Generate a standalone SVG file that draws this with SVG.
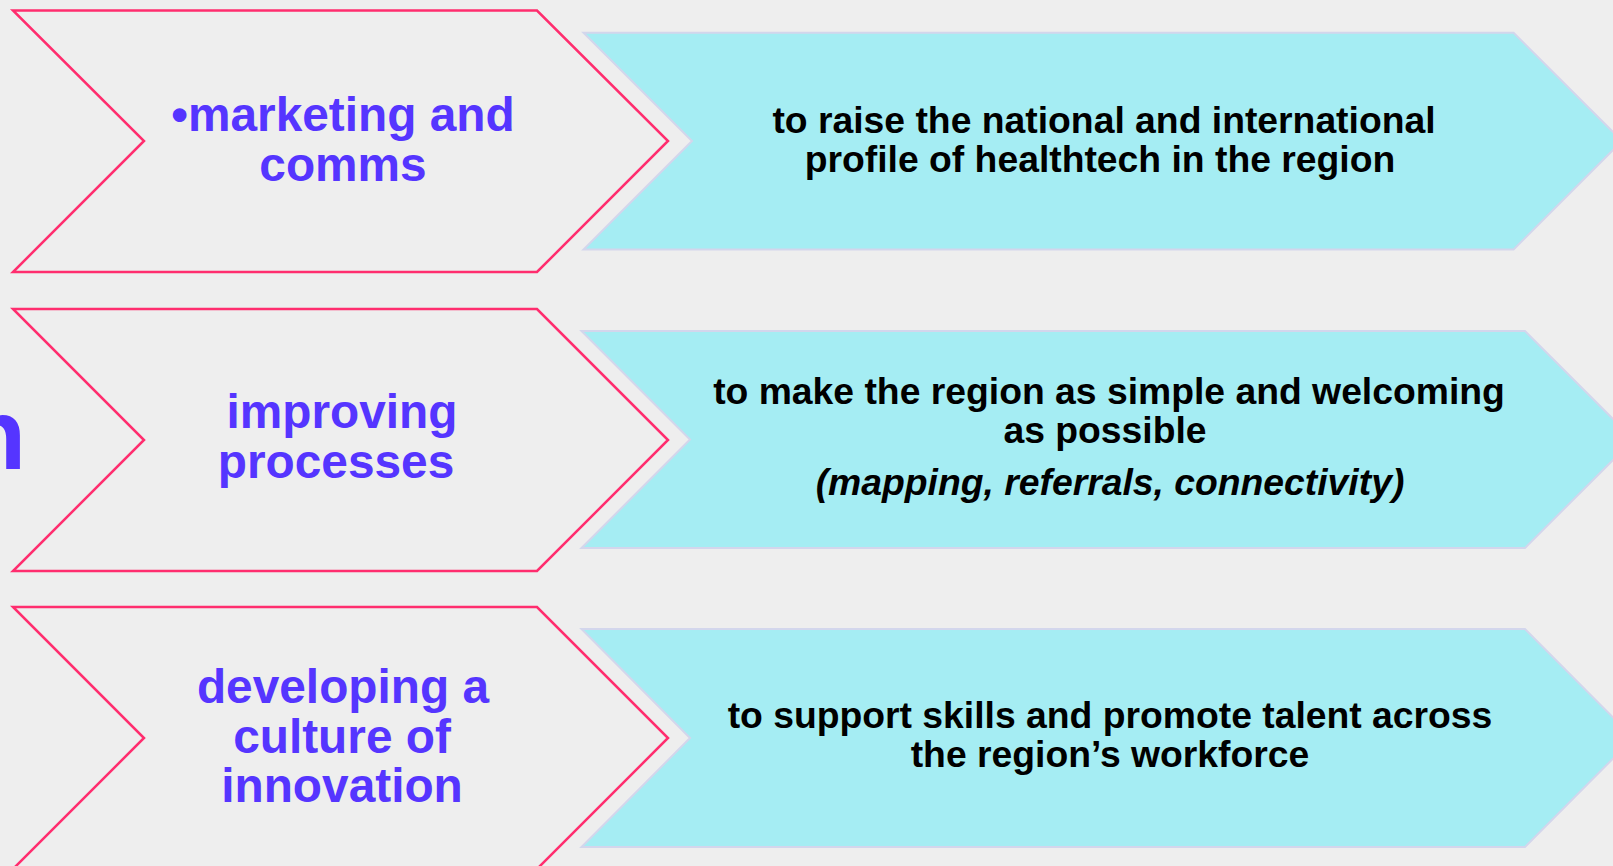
<svg xmlns="http://www.w3.org/2000/svg" width="1613" height="866" viewBox="0 0 1613 866">
<style>
.bg{fill:#eeeeee}
.pk{fill:#eeeeee;stroke:#ff2d6e;stroke-width:2.5;stroke-linejoin:miter}
.cy{fill:#a5edf3;stroke:#d3d6ec;stroke-width:2}
.lt{font-family:"Liberation Sans",Arial,sans-serif;font-weight:bold;font-size:47.8px;fill:#5535ff;text-anchor:middle}
.rt{font-family:"Liberation Sans",Arial,sans-serif;font-weight:bold;font-size:37.3px;fill:#000000;text-anchor:middle}
.it{font-style:italic}
</style>
<rect class="bg" x="0" y="0" width="1613" height="866"/>
<g id="fragment">
<text x="-35" y="469" font-family="Liberation Sans, Arial, sans-serif" font-weight="bold" font-size="100" fill="#5535ff">n</text>
</g>
<g id="connectors"></g>
<g id="node-marketing">
<polygon class="pk" points="13,10.5 537,10.5 668,141 537,272 13,272 144,141"/>
<text class="lt" x="343" y="131">•marketing and</text>
<text class="lt" x="343" y="181">comms</text>
</g>
<g id="node-raise">
<polygon class="cy" points="583.5,32.7 1513.6,32.7 1622,141 1513.6,249.5 583.5,249.5 692,141"/>
<text class="rt" x="1104" y="133">to raise the national and international</text>
<text class="rt" x="1100" y="172">profile of healthtech in the region</text>
</g>
<g id="node-processes">
<polygon class="pk" points="13,309 537,309 668,440 537,571 13,571 144,440"/>
<text class="lt" x="342" y="428">improving</text>
<text class="lt" x="336" y="478">processes</text>
</g>
<g id="node-simple">
<polygon class="cy" points="581.5,331 1525,331 1633.5,439.5 1525,548 581.5,548 690,439.5"/>
<text class="rt" x="1109" y="404">to make the region as simple and welcoming</text>
<text class="rt" x="1105" y="443">as possible</text>
<text class="rt it" x="1110" y="495">(mapping, referrals, connectivity)</text>
</g>
<g id="node-culture">
<polygon class="pk" points="13,607 537,607 668,738 537,869 13,869 144,738"/>
<text class="lt" x="343" y="703">developing a</text>
<text class="lt" x="342" y="753">culture of</text>
<text class="lt" x="342" y="802">innovation</text>
</g>
<g id="node-skills">
<polygon class="cy" points="581.5,629 1525,629 1633.5,738 1525,847 581.5,847 690,738"/>
<text class="rt" x="1110" y="728">to support skills and promote talent across</text>
<text class="rt" x="1110" y="767">the region’s workforce</text>
</g>
</svg>
